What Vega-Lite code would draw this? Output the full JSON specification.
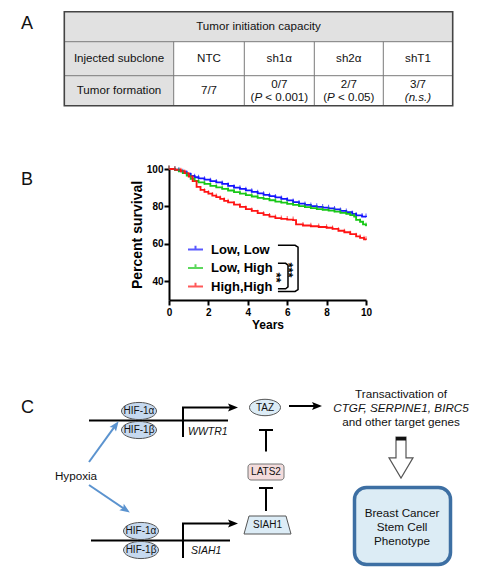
{
"$schema":"https://vega.github.io/schema/vega-lite/v6.json",
"padding":{"left":20,"top":0,"right":0,"bottom":0},
"spacing":0,
"config":{"view":{"stroke":null},"font":"Liberation Sans","text":{"font":"Liberation Sans"}},
"datasets":{
"tFill":[{"x":63.3,"x2":451.7,"y":11.7,"y2":41.7},{"x":63.3,"x2":172.7,"y":41.7,"y2":105.7}],
"tLines":[{"x":63.3,"x2":451.7,"y":41.7,"y2":41.7},{"x":63.3,"x2":451.7,"y":75.7,"y2":75.7},{"x":172.7,"x2":172.7,"y":41.7,"y2":105.7},{"x":243.3,"x2":243.3,"y":41.7,"y2":105.7},{"x":313.3,"x2":313.3,"y":41.7,"y2":105.7},{"x":382.3,"x2":382.3,"y":41.7,"y2":105.7}],
"tBorder":[{"x":63.3,"x2":451.7,"y":11.7,"y2":105.7}],
"tText":[{"x":257.5,"y":26.7,"t":"Tumor initiation capacity"},{"x":118,"y":58.7,"t":"Injected subclone"},{"x":208,"y":58.7,"t":"NTC"},{"x":278.3,"y":58.7,"t":"sh1α"},{"x":347.8,"y":58.7,"t":"sh2α"},{"x":417,"y":58.7,"t":"shT1"},{"x":118,"y":90.7,"t":"Tumor formation"},{"x":208,"y":90.7,"t":"7/7"},{"x":278.3,"y":84.5,"t":"0/7"},{"x":347.8,"y":84.5,"t":"2/7"},{"x":417,"y":84.5,"t":"3/7"}],
"tLeft":[{"x":249.5,"y":97.5,"t":"("},{"x":264.3,"y":97.5,"t":"< 0.001)"},{"x":322.2,"y":97.5,"t":"("},{"x":337.0,"y":97.5,"t":"< 0.05)"}],
"tItalic":[{"x":253.4,"y":97.5,"t":"P"},{"x":326.1,"y":97.5,"t":"P"}],
"tItalicC":[{"x":417,"y":97.5,"t":"(n.s.)"}],
"letterA":[{"x":20,"y":23.5,"t":"A"}],
"surv":[
{"g":"Low, Low","year":0,"s":100},{"g":"Low, Low","year":0.3,"s":99.6},{"g":"Low, Low","year":0.5,"s":99},{"g":"Low, Low","year":0.7,"s":98.3},{"g":"Low, Low","year":0.9,"s":97.4},{"g":"Low, Low","year":1.1,"s":96.3},{"g":"Low, Low","year":1.3,"s":95.6},{"g":"Low, Low","year":1.5,"s":95},{"g":"Low, Low","year":1.8,"s":94.3},{"g":"Low, Low","year":2.1,"s":93.5},{"g":"Low, Low","year":2.4,"s":92.8},{"g":"Low, Low","year":2.7,"s":92},{"g":"Low, Low","year":3,"s":91},{"g":"Low, Low","year":3.3,"s":90},{"g":"Low, Low","year":3.6,"s":89.4},{"g":"Low, Low","year":3.9,"s":88.6},{"g":"Low, Low","year":4.2,"s":87.8},{"g":"Low, Low","year":4.5,"s":87},{"g":"Low, Low","year":4.8,"s":86.2},{"g":"Low, Low","year":5.1,"s":85.5},{"g":"Low, Low","year":5.4,"s":84.8},{"g":"Low, Low","year":5.7,"s":84},{"g":"Low, Low","year":6,"s":83.2},{"g":"Low, Low","year":6.3,"s":82.3},{"g":"Low, Low","year":6.6,"s":81.5},{"g":"Low, Low","year":6.9,"s":80.8},{"g":"Low, Low","year":7.2,"s":80.2},{"g":"Low, Low","year":7.5,"s":79.8},{"g":"Low, Low","year":7.8,"s":79.4},{"g":"Low, Low","year":8.1,"s":79},{"g":"Low, Low","year":8.4,"s":78.4},{"g":"Low, Low","year":8.7,"s":77.6},{"g":"Low, Low","year":9,"s":77},{"g":"Low, Low","year":9.3,"s":76},{"g":"Low, Low","year":9.5,"s":75.2},{"g":"Low, Low","year":9.8,"s":74.6},{"g":"Low, Low","year":10,"s":74.4},
{"g":"Low, High","year":0,"s":100},{"g":"Low, High","year":0.3,"s":99.5},{"g":"Low, High","year":0.5,"s":98.8},{"g":"Low, High","year":0.7,"s":97.8},{"g":"Low, High","year":0.9,"s":96.5},{"g":"Low, High","year":1.1,"s":94.8},{"g":"Low, High","year":1.3,"s":93.6},{"g":"Low, High","year":1.5,"s":92.8},{"g":"Low, High","year":1.8,"s":92},{"g":"Low, High","year":2.1,"s":91},{"g":"Low, High","year":2.4,"s":90.2},{"g":"Low, High","year":2.7,"s":89.4},{"g":"Low, High","year":3,"s":88.5},{"g":"Low, High","year":3.3,"s":87.6},{"g":"Low, High","year":3.6,"s":86.8},{"g":"Low, High","year":3.9,"s":86},{"g":"Low, High","year":4.2,"s":85.3},{"g":"Low, High","year":4.5,"s":84.6},{"g":"Low, High","year":4.8,"s":84},{"g":"Low, High","year":5.1,"s":83.3},{"g":"Low, High","year":5.4,"s":82.6},{"g":"Low, High","year":5.7,"s":82},{"g":"Low, High","year":6,"s":81.4},{"g":"Low, High","year":6.3,"s":80.8},{"g":"Low, High","year":6.6,"s":80.2},{"g":"Low, High","year":6.9,"s":79.6},{"g":"Low, High","year":7.2,"s":79.1},{"g":"Low, High","year":7.5,"s":78.6},{"g":"Low, High","year":7.8,"s":78.2},{"g":"Low, High","year":8.1,"s":77.8},{"g":"Low, High","year":8.4,"s":77.2},{"g":"Low, High","year":8.7,"s":76.6},{"g":"Low, High","year":9,"s":76},{"g":"Low, High","year":9.2,"s":75.4},{"g":"Low, High","year":9.4,"s":74.6},{"g":"Low, High","year":9.5,"s":72.8},{"g":"Low, High","year":9.7,"s":71.8},{"g":"Low, High","year":9.85,"s":70.4},{"g":"Low, High","year":10,"s":69.5},
{"g":"High,High","year":0,"s":100},{"g":"High,High","year":0.3,"s":99.6},{"g":"High,High","year":0.6,"s":98.8},{"g":"High,High","year":0.8,"s":97.8},{"g":"High,High","year":1,"s":96},{"g":"High,High","year":1.2,"s":93.5},{"g":"High,High","year":1.4,"s":90.5},{"g":"High,High","year":1.6,"s":88.8},{"g":"High,High","year":1.8,"s":87.8},{"g":"High,High","year":2,"s":86.8},{"g":"High,High","year":2.2,"s":85.8},{"g":"High,High","year":2.4,"s":85},{"g":"High,High","year":2.6,"s":84},{"g":"High,High","year":2.8,"s":83},{"g":"High,High","year":3,"s":82.2},{"g":"High,High","year":3.3,"s":81},{"g":"High,High","year":3.6,"s":79.8},{"g":"High,High","year":3.9,"s":78.6},{"g":"High,High","year":4.2,"s":77.6},{"g":"High,High","year":4.5,"s":76.4},{"g":"High,High","year":4.8,"s":75.5},{"g":"High,High","year":5.1,"s":74.6},{"g":"High,High","year":5.4,"s":73.8},{"g":"High,High","year":5.7,"s":73.3},{"g":"High,High","year":6,"s":73},{"g":"High,High","year":6.3,"s":72.7},{"g":"High,High","year":6.45,"s":70.4},{"g":"High,High","year":6.8,"s":69.8},{"g":"High,High","year":7.2,"s":69.4},{"g":"High,High","year":7.6,"s":69},{"g":"High,High","year":8,"s":68.6},{"g":"High,High","year":8.3,"s":68},{"g":"High,High","year":8.6,"s":67},{"g":"High,High","year":8.9,"s":66.2},{"g":"High,High","year":9.2,"s":65.2},{"g":"High,High","year":9.5,"s":64},{"g":"High,High","year":9.7,"s":63.2},{"g":"High,High","year":9.9,"s":62.4},{"g":"High,High","year":10,"s":62.2}
],
"brackets":[
{"b":"outer","o":1,"year":5.53,"s":59.2},{"b":"outer","o":2,"year":6.4,"s":59.2},{"b":"outer","o":3,"year":6.55,"s":58.2},{"b":"outer","o":4,"year":6.55,"s":35.6},{"b":"outer","o":5,"year":6.4,"s":34.6},{"b":"outer","o":6,"year":5.53,"s":34.6},
{"b":"inner","o":1,"year":5.53,"s":49.6},{"b":"inner","o":2,"year":5.92,"s":49.6},{"b":"inner","o":3,"year":6.04,"s":48.6},{"b":"inner","o":4,"year":6.04,"s":37},{"b":"inner","o":5,"year":5.92,"s":36},{"b":"inner","o":6,"year":5.53,"s":36}
],
"stars":[{"year":5.45,"s":42,"t":"**"},{"year":6.05,"s":46,"t":"***"}],
"letterB":[{"year":-7.513,"s":94.1,"t":"B"}],
"letterC":[{"x":20,"y":408,"t":"C"}],
"cLines":[
{"id":"dna1","o":1,"x":88,"y":420.5},{"id":"dna1","o":2,"x":227,"y":420.5},
{"id":"dna2","o":1,"x":90,"y":540.5},{"id":"dna2","o":2,"x":229,"y":540.5},
{"id":"bend1","o":1,"x":182,"y":437},{"id":"bend1","o":2,"x":182,"y":407.5},{"id":"bend1","o":3,"x":232,"y":407.5},
{"id":"bend2","o":1,"x":182,"y":558},{"id":"bend2","o":2,"x":182,"y":523.5},{"id":"bend2","o":3,"x":232,"y":523.5},
{"id":"taz","o":1,"x":288,"y":406},{"id":"taz","o":2,"x":316,"y":406},
{"id":"t1v","o":1,"x":265,"y":451.5},{"id":"t1v","o":2,"x":265,"y":430},
{"id":"t1b","o":1,"x":258,"y":430},{"id":"t1b","o":2,"x":272,"y":430},
{"id":"t2v","o":1,"x":265,"y":511},{"id":"t2v","o":2,"x":265,"y":488},
{"id":"t2b","o":1,"x":258,"y":488},{"id":"t2b","o":2,"x":272,"y":488}
],
"cBlue":[
{"id":"h1","o":1,"x":88,"y":462},{"id":"h1","o":2,"x":114.7,"y":425.2},
{"id":"h2","o":1,"x":88,"y":485},{"id":"h2","o":2,"x":124.7,"y":509.8}
],
"cHeads":[{"x":232,"y":407.5},{"x":232,"y":523.5},{"x":316,"y":406}],
"cBh1":[{"x":114.7,"y":425.2}],
"cBh2":[{"x":124.7,"y":509.8}],
"cHif":[{"x":138,"y":411,"t":"HIF-1α"},{"x":138,"y":430,"t":"HIF-1β"},{"x":140,"y":531,"t":"HIF-1α"},{"x":140,"y":550,"t":"HIF-1β"}],
"cTaz":[{"x":264,"y":407.5,"t":"TAZ"}],
"cLats":[{"x":247,"x2":283,"y":464,"y2":480}],
"cSiah":[{"x":266.5,"y":525,"t":"SIAH1"}],
"cSmallText":[{"x":265,"y":472,"t":"LATS2"}],
"cHollow":[{"x":400,"y":457.5}],
"cCap":[{"x":395,"x2":405,"y":437,"y2":440.5}],
"cBox":[{"x":353.5,"x2":449.5,"y":487.5,"y2":564.5}],
"cText":[{"x":400,"y":394,"t":"Transactivation of"},{"x":400,"y":421.5,"t":"and other target genes"},{"x":401,"y":513,"t":"Breast Cancer"},{"x":401,"y":527,"t":"Stem Cell"},{"x":401,"y":541,"t":"Phenotype"},{"x":75,"y":476,"t":"Hypoxia"}],
"cItalicC":[{"x":400,"y":408,"t":"CTGF, SERPINE1, BIRC5"}],
"cItalicL":[{"x":187,"y":431.5,"t":"WWTR1"},{"x":190,"y":551,"t":"SIAH1"}]
},
"vconcat":[
{
"width":332,"height":164,
"encoding":{
"x":{"field":"x","type":"quantitative","scale":{"domain":[168,500],"nice":false,"zero":false},"axis":null},
"y":{"field":"y","type":"quantitative","scale":{"domain":[0,164],"nice":false,"zero":false,"reverse":true},"axis":null}
},
"layer":[
{"data":{"name":"tFill"},"mark":{"type":"rect","color":"#e1e1e1"},"encoding":{"x2":{"field":"x2"},"y2":{"field":"y2"}}},
{"data":{"name":"tLines"},"mark":{"type":"rule","color":"#7a7a7a","strokeWidth":1},"encoding":{"x2":{"field":"x2"},"y2":{"field":"y2"}}},
{"data":{"name":"tBorder"},"mark":{"type":"rect","filled":false,"stroke":"#444444","strokeWidth":1.6},"encoding":{"x2":{"field":"x2"},"y2":{"field":"y2"}}},
{"data":{"name":"tText"},"mark":{"type":"text","fontSize":11.6,"align":"center","baseline":"middle","color":"#111111"},"encoding":{"text":{"field":"t"}}},
{"data":{"name":"tLeft"},"mark":{"type":"text","fontSize":11.6,"align":"left","baseline":"middle","color":"#111111"},"encoding":{"text":{"field":"t"}}},
{"data":{"name":"tItalic"},"mark":{"type":"text","fontSize":11.6,"fontStyle":"italic","align":"left","baseline":"middle","color":"#111111"},"encoding":{"text":{"field":"t"}}},
{"data":{"name":"tItalicC"},"mark":{"type":"text","fontSize":11.6,"fontStyle":"italic","align":"center","baseline":"middle","color":"#111111"},"encoding":{"text":{"field":"t"}}},
{"data":{"name":"letterA"},"mark":{"type":"text","fontSize":18,"align":"left","baseline":"middle","color":"#111111"},"encoding":{"text":{"field":"t"}}}
]
},
{
"width":197,"height":131,
"encoding":{
"x":{"field":"year","type":"quantitative","scale":{"domain":[0,10],"nice":false,"zero":false},"axis":{"values":[0,2,4,6,8,10],"title":"Years","titleFontSize":12,"titleFontWeight":"bold","titleColor":"black","titlePadding":2,"labelFontSize":10,"labelFontWeight":"bold","labelColor":"black","labelPadding":2,"labelFlush":false,"labelOverlap":false,"domainColor":"black","domainWidth":2,"tickColor":"black","tickWidth":2,"tickSize":5,"grid":false}},
"y":{"field":"s","type":"quantitative","scale":{"domain":[30,100],"nice":false,"zero":false},"axis":{"values":[40,60,80,100],"title":"Percent survival","titleFontSize":14,"titleFontWeight":"bold","titleColor":"black","titlePadding":2,"labelFontSize":10,"labelFontWeight":"bold","labelColor":"black","labelPadding":1,"labelFlush":false,"labelOverlap":false,"domainColor":"black","domainWidth":2,"tickColor":"black","tickWidth":2,"tickSize":5,"grid":false}}
},
"layer":[
{"data":{"name":"surv"},"mark":{"type":"line","interpolate":"step-after","strokeWidth":1.8},
"encoding":{"color":{"field":"g","type":"nominal","scale":{"domain":["Low, Low","Low, High","High,High"],"range":["#1414ff","#18c818","#ff1414"]},
"legend":{"orient":"none","legendX":18,"legendY":241,"title":null,"symbolType":"M-1,0L1,0M0,0L0,-0.5","symbolSize":225,"symbolStrokeWidth":2,"labelFontSize":13,"labelFontWeight":"bold","labelColor":"black","labelOffset":7,"rowPadding":2.5,"padding":0,"labelFont":"Liberation Sans"}}}},
{"data":{"name":"surv"},"mark":{"type":"tick","orient":"vertical","size":4,"thickness":1,"yOffset":-1.5},
"encoding":{"color":{"field":"g","type":"nominal","scale":{"domain":["Low, Low","Low, High","High,High"],"range":["#1414ff","#18c818","#ff1414"]},
"legend":{"orient":"none","legendX":18,"legendY":241,"title":null,"symbolType":"M-1,0L1,0M0,0L0,-0.5","symbolSize":225,"symbolStrokeWidth":2,"labelFontSize":13,"labelFontWeight":"bold","labelColor":"black","labelOffset":7,"rowPadding":2.5,"padding":0,"labelFont":"Liberation Sans"}}}},
{"data":{"name":"brackets"},"mark":{"type":"line","color":"black","strokeWidth":1.5},"encoding":{"detail":{"field":"b"},"order":{"field":"o","type":"quantitative"}}},
{"data":{"name":"stars"},"mark":{"type":"text","angle":90,"fontSize":13,"fontWeight":"bold","align":"center","baseline":"middle","color":"black"},"encoding":{"text":{"field":"t"}}},
{"data":{"name":"letterB"},"mark":{"type":"text","fontSize":18,"align":"left","baseline":"middle","color":"#111111"},"encoding":{"text":{"field":"t"}}}
]
},
{
"width":332,"height":250,
"encoding":{
"x":{"field":"x","type":"quantitative","scale":{"domain":[168,500],"nice":false,"zero":false},"axis":null},
"y":{"field":"y","type":"quantitative","scale":{"domain":[330,580],"nice":false,"zero":false,"reverse":true},"axis":null}
},
"layer":[
{"data":{"name":"letterC"},"mark":{"type":"text","fontSize":18,"align":"left","baseline":"middle","color":"#111111"},"encoding":{"text":{"field":"t"}}},
{"data":{"name":"cLines"},"mark":{"type":"line","color":"black","strokeWidth":2},"encoding":{"detail":{"field":"id"},"order":{"field":"o","type":"quantitative"}}},
{"data":{"name":"cBlue"},"mark":{"type":"line","color":"#5b93cf","strokeWidth":2},"encoding":{"detail":{"field":"id"},"order":{"field":"o","type":"quantitative"}}},
{"data":{"name":"cHeads"},"mark":{"type":"point","shape":"M1,0L-1,-0.8L-0.6,0L-1,0.8Z","size":100,"filled":true,"color":"black","opacity":1}},
{"data":{"name":"cBh1"},"mark":{"type":"point","shape":"M1,0L-1,-0.8L-0.6,0L-1,0.8Z","size":100,"filled":true,"color":"#5b93cf","opacity":1,"angle":-54}},
{"data":{"name":"cBh2"},"mark":{"type":"point","shape":"M1,0L-1,-0.8L-0.6,0L-1,0.8Z","size":100,"filled":true,"color":"#5b93cf","opacity":1,"angle":34}},
{"data":{"name":"cHif"},"mark":{"type":"point","shape":"M-1,0A1,0.49,0,1,0,1,0A1,0.49,0,1,0,-1,0Z","size":1225,"filled":true,"fill":"#c6d9ef","stroke":"#555555","strokeWidth":1,"opacity":1}},
{"data":{"name":"cHif"},"mark":{"type":"text","fontSize":10,"align":"center","baseline":"middle","color":"#111111"},"encoding":{"text":{"field":"t"}}},
{"data":{"name":"cTaz"},"mark":{"type":"point","shape":"M-1,0A1,0.53,0,1,0,1,0A1,0.53,0,1,0,-1,0Z","size":961,"filled":true,"fill":"#dcecf6","stroke":"#555555","strokeWidth":1,"opacity":1}},
{"data":{"name":"cTaz"},"mark":{"type":"text","fontSize":10,"align":"center","baseline":"middle","color":"#111111"},"encoding":{"text":{"field":"t"}}},
{"data":{"name":"cLats"},"mark":{"type":"rect","fill":"#f3dcdc","stroke":"#777777","strokeWidth":1,"cornerRadius":3},"encoding":{"x2":{"field":"x2"},"y2":{"field":"y2"}}},
{"data":{"name":"cSmallText"},"mark":{"type":"text","fontSize":10,"align":"center","baseline":"middle","color":"#111111"},"encoding":{"text":{"field":"t"}}},
{"data":{"name":"cSiah"},"mark":{"type":"point","shape":"M-0.787,-0.383L0.787,-0.383L1,0.383L-1,0.383Z","size":2209,"filled":true,"fill":"#dcecf6","stroke":"#555555","strokeWidth":1,"opacity":1}},
{"data":{"name":"cSiah"},"mark":{"type":"text","fontSize":10,"align":"center","baseline":"middle","color":"#111111"},"encoding":{"text":{"field":"t"}}},
{"data":{"name":"cHollow"},"mark":{"type":"point","shape":"M-0.244,-1L0.244,-1L0.244,0.02L0.585,0.02L0,1L-0.585,0.02L-0.244,0.02Z","size":1681,"filled":true,"fill":"white","stroke":"#555555","strokeWidth":1.2,"opacity":1}},
{"data":{"name":"cCap"},"mark":{"type":"rect","color":"#111111"},"encoding":{"x2":{"field":"x2"},"y2":{"field":"y2"}}},
{"data":{"name":"cBox"},"mark":{"type":"rect","fill":"#dcecf5","stroke":"#3d6fa3","strokeWidth":3.5,"cornerRadius":12},"encoding":{"x2":{"field":"x2"},"y2":{"field":"y2"}}},
{"data":{"name":"cText"},"mark":{"type":"text","fontSize":11.7,"align":"center","baseline":"middle","color":"#111111"},"encoding":{"text":{"field":"t"}}},
{"data":{"name":"cItalicC"},"mark":{"type":"text","fontSize":11.7,"fontStyle":"italic","align":"center","baseline":"middle","color":"#111111"},"encoding":{"text":{"field":"t"}}},
{"data":{"name":"cItalicL"},"mark":{"type":"text","fontSize":10.5,"fontStyle":"italic","align":"left","baseline":"middle","color":"#111111"},"encoding":{"text":{"field":"t"}}}
]
}
]
}
